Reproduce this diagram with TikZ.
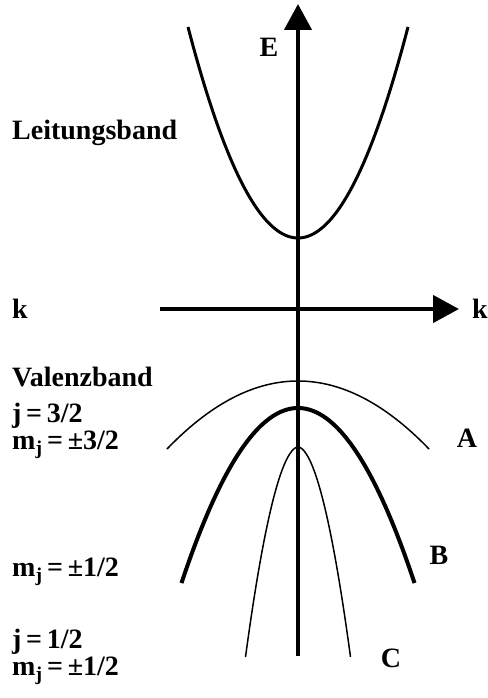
\documentclass[tikz,border=0pt]{standalone}
\usepackage{fontspec}
\setmainfont{Liberation Serif}
\usetikzlibrary{arrows.meta}

\begin{document}
\begin{tikzpicture}[
      x=1pt, y=-1pt,
      lbl/.style={font=\bfseries\fontsize{28}{27}\selectfont, inner sep=0pt},
      leftlbl/.style={lbl, anchor=west, align=left},
      axis/.style={line width=4.5pt, -{Triangle[length=26pt,width=27pt]}},
      thinband/.style={line width=1.5pt},
      thickband/.style={line width=4pt}
    ]
    \useasboundingbox (0,0) rectangle (487,698);

    \coordinate (ebot) at (298,656);
    \coordinate (etop) at (298,4);
    \coordinate (kleft) at (160,309);
    \coordinate (kright) at (459,309);

    \draw[line width=3pt] plot[domain=-110:110, samples=80]
      ({298+\x},{238-211*(\x/110)^2});
    \draw[thinband] plot[domain=-131:131, samples=80]
      ({298+\x},{381+68*(\x/131)^2});
    \draw[thickband] plot[domain=-116.5:116.5, samples=80]
      ({298+\x},{408+175*(\x/116.5)^2});
    \draw[thinband] plot[domain=-52.5:52.5, samples=80]
      ({298+\x},{447+210*(abs(\x)/52.5)^1.85});

    \draw[axis] (ebot) -- (etop);
    \draw[axis] (kleft) -- (kright);

    \node[lbl] (elbl) at (269,47) {E};
    \node[lbl] (kl) at (20,309) {k};
    \node[lbl, anchor=west] (kr) at (472,309) {k};

    \node[leftlbl] (leit) at (12,133) {Leitungsband};
    \node[leftlbl] (val) at (12,377) {Valenzband};
    \node[leftlbl] (j32) at (12,431) {j\,=\,3/2\\m\textsubscript{j}\,=\,±3/2};
    \node[leftlbl] (mj12a) at (12,572) {m\textsubscript{j}\,=\,±1/2};
    \node[leftlbl] (j12) at (12,657) {j\,=\,1/2\\m\textsubscript{j}\,=\,±1/2};

    \node[lbl] (bA) at (467,438) {A};
    \node[lbl] (bB) at (439,555) {B};
    \node[lbl] (bC) at (391,658) {C};
  \end{tikzpicture}
\end{document}
